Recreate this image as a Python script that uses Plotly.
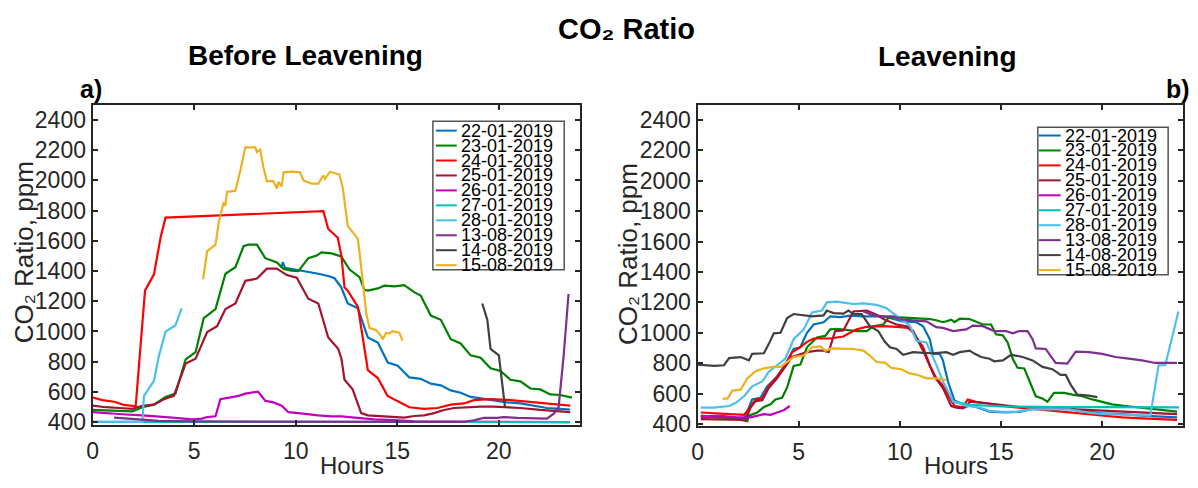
import plotly.graph_objects as go

# The page body keeps its default 8px margin, so the figure is drawn 8px in.
PAGE_W, PAGE_H, OFF = 1198, 488, 8
W, H = PAGE_W - OFF, PAGE_H - OFF

NAMES = ["22-01-2019", "23-01-2019", "24-01-2019", "25-01-2019", "26-01-2019",
         "27-01-2019", "28-01-2019", "13-08-2019", "14-08-2019", "15-08-2019"]
COLORS = ["#0072BD", "#008000", "#FF0000", "#A2142F", "#BF00BF",
          "#00BFBF", "#4DBEEE", "#7E2F8E", "#404040", "#EDB120"]

X_TICKS = [0, 5, 10, 15, 20]
Y_TICKS = [400, 600, 800, 1000, 1200, 1400, 1600, 1800, 2000, 2200, 2400]

# ---------------- a) Before Leavening ----------------
B_2201_H = [9.30, 9.36, 9.48, 9.80, 10.46, 11.11, 11.60, 11.91, 12.24, 12.56, 13.06, 13.55, 14.04, 14.53,
            15.02, 15.59, 16.15, 16.65, 17.14, 17.63, 18.12, 18.61, 19.10, 19.75, 20.40, 21.06, 21.71,
            22.37, 23.02, 23.51]
B_2201_V = [1420, 1459, 1421, 1414, 1399, 1382, 1367, 1352, 1292, 1185, 1153, 960, 927, 795,
            773, 696, 687, 655, 644, 610, 595, 567, 557, 542, 531, 524, 509,
            494, 488, 484]

B_2301_H = [0, 0.82, 1.47, 1.96, 2.45, 3.02, 3.59, 4.08, 4.58, 5.07, 5.47, 6.05, 6.54, 7.03, 7.43, 7.68,
            8.09, 8.50, 9.07, 9.40, 9.80, 10.13, 10.62, 11.03, 11.27, 11.76, 12.24, 12.65, 13.14, 13.38,
            13.55, 14.04, 14.36, 14.85, 15.34, 15.83, 16.15, 16.65, 17.14, 17.63, 18.12, 18.61, 19.10,
            19.59, 20.08, 20.57, 21.06, 21.55, 22.04, 22.53, 23.02, 23.60]
B_2301_V = [481, 477, 477, 471, 499, 516, 567, 589, 816, 863, 1088, 1148, 1382, 1425, 1564, 1575,
            1575, 1485, 1457, 1414, 1403, 1399, 1485, 1502, 1523, 1517, 1496, 1410, 1360, 1275,
            1270, 1285, 1303, 1298, 1307, 1260, 1238, 1105, 1077, 949, 921, 842, 827,
            756, 739, 681, 670, 623, 617, 584, 580, 563]

B_2401_H = [0, 0.49, 1.06, 1.55, 2.12, 2.58, 3.02, 3.35, 3.59, 11.36, 11.60, 12.07, 12.25, 12.40, 12.56,
            13.06, 13.55, 14.04, 14.52, 15.00, 15.59, 16.32, 16.98, 17.63, 18.28, 18.77, 19.59, 20.40,
            21.39, 22.37, 23.51]
B_2401_V = [563, 546, 535, 514, 505, 1270, 1378, 1624, 1753, 1796, 1678, 1620, 1500, 1292, 1270,
            1163, 745, 692, 574, 541, 499, 488, 494, 516, 524, 546, 552, 548,
            537, 524, 509]

B_2501_H = [0, 0.65, 1.31, 1.96, 2.45, 3.02, 3.51, 4.00, 4.58, 5.07, 5.64, 6.13, 6.54, 7.03, 7.52, 8.09,
            8.58, 9.07, 9.56, 10.05, 10.62, 11.11, 11.60, 12.09, 12.25, 12.40, 12.80, 13.22, 13.55, 14.20,
            14.85, 15.34, 15.83, 16.32, 16.81, 17.30, 17.79, 18.45, 19.10, 19.75, 20.40, 21.06, 22.04,
            23.02, 23.51]
B_2501_V = [509, 499, 494, 488, 509, 516, 552, 574, 788, 820, 996, 1035, 1148, 1185, 1335, 1350,
            1416, 1416, 1373, 1356, 1217, 1185, 960, 885, 820, 681, 617, 460, 445, 439,
            434, 430, 441, 445, 460, 481, 494, 499, 503, 503, 499, 494, 481,
            473, 466]

B_2601_H = [0, 0.82, 1.63, 2.45, 3.27, 4.08, 4.90, 5.39, 5.64, 6.05, 6.29, 6.70, 7.19, 7.52, 7.84, 8.14,
            8.50, 8.90, 9.31, 9.64, 10.13, 10.62, 11.11, 11.76, 12.25, 12.90, 13.87, 14.85, 15.83, 17.0,
            18.5, 20.0, 21.5, 23.5]
B_2601_V = [466, 456, 451, 445, 434, 428, 419, 424, 434, 439, 552, 563, 574, 589, 595, 602,
            542, 531, 509, 466, 460, 451, 445, 439, 439, 430, 419, 413, 406, 404,
            403, 402, 402, 401]

B_2701_H = [0, 4.0, 8.0, 12.0, 16.0, 20.0, 23.5]
B_2701_V = [402, 401, 400, 400, 400, 401, 401]

B_2801_H = [0, 0.8, 1.6, 2.45, 2.53, 3.02, 3.27, 3.59, 4.08, 4.38]
B_2801_V = [403, 403, 402, 402, 574, 674, 842, 998, 1041, 1153]

B_1308_H = [1.06, 1.63, 2.45, 3.27, 5.0, 8.0, 11.0, 14.0, 16.0, 18.28, 18.77, 19.26, 19.92, 20.24,
            20.90, 21.88, 22.37, 22.70, 22.94, 23.19, 23.43]
B_1308_V = [430, 424, 413, 409, 405, 404, 403, 402, 402, 402, 413, 428, 428, 434,
            428, 424, 424, 456, 499, 842, 1249]

B_1408_H = [19.18, 19.43, 19.59, 20.00, 20.30]
B_1408_V = [1185, 1077, 885, 842, 499]

B_1508_H = [5.44, 5.64, 6.05, 6.21, 6.45, 6.54, 6.62, 7.03, 7.27, 7.52, 8.01, 8.09, 8.25, 8.41, 8.58,
            8.90, 9.07, 9.15, 9.31, 9.40, 9.80, 10.21, 10.38, 10.78, 11.11, 11.36, 11.44, 11.68, 12.15,
            12.32, 12.56, 13.06, 13.30, 13.47, 13.63, 13.96, 14.20, 14.28, 14.45, 14.60, 14.77, 15.10,
            15.26]
B_1508_V = [1345, 1532, 1575, 1721, 1854, 1832, 1924, 1931, 2064, 2218, 2218, 2188, 2203, 2085, 1995,
            1995, 1946, 1989, 1961, 2053, 2057, 2053, 1999, 1978, 1978, 2032, 2010, 2057, 2038,
            1946, 1699, 1613, 1335, 1120, 1024, 1009, 970, 949, 992, 987, 1002, 992,
            938]

# ---------------- b) Leavening ----------------
L_2201_H = [0.16, 0.98, 1.64, 2.30, 2.70, 3.11, 3.44, 3.93, 4.34, 4.75, 5.08, 5.41, 5.74, 6.23, 6.56,
            7.05, 7.54, 8.20, 8.69, 9.18, 9.67, 10.16, 10.82, 11.15, 11.48, 11.64, 11.97, 12.13, 12.38,
            12.70, 13.11, 13.77, 14.43, 15.25, 15.90, 16.72, 17.54, 18.20, 18.69, 19.35, 20.00, 20.99,
            21.97, 22.95, 23.70]
L_2201_V = [454, 443, 439, 432, 561, 572, 647, 711, 790, 893, 904, 1000, 1054, 1069, 1108,
            1103, 1112, 1108, 1108, 1108, 1090, 1075, 1069, 1043, 957, 861, 861, 818, 679,
            554, 529, 511, 481, 475, 479, 503, 511, 511, 496, 479, 469, 464,
            454, 447, 443]

L_2301_H = [0.16, 0.98, 1.64, 2.46, 2.54, 2.95, 3.28, 3.61, 3.85, 4.18, 4.43, 4.75, 5.08, 5.41, 5.66,
            5.90, 6.31, 6.56, 6.89, 7.21, 7.87, 8.36, 8.69, 9.18, 9.43, 9.84, 10.49, 10.98, 11.48, 11.80,
            12.13, 12.30, 12.54, 12.70, 12.96, 13.45, 13.70, 14.10, 14.51, 14.75, 15.09, 15.33, 15.58,
            15.82, 16.15, 16.40, 16.72, 17.05, 17.30, 17.62, 18.12, 18.53, 19.02, 19.51, 20.00, 20.49,
            21.15, 21.97, 22.95, 23.70]
L_2301_V = [447, 443, 439, 417, 454, 475, 511, 529, 561, 572, 640, 782, 790, 904, 940,
            968, 979, 1022, 1026, 1022, 1011, 1011, 1043, 1054, 1097, 1103, 1097, 1090, 1090, 1082,
            1069, 1075, 1086, 1069, 1092, 1090, 1075, 1054, 1054, 990, 983, 936, 829,
            769, 765, 679, 582, 567, 546, 604, 604, 593, 582, 561, 546, 529,
            518, 507, 496, 481]

L_2401_H = [0.16, 0.98, 1.64, 2.30, 2.46, 2.62, 2.87, 3.20, 3.52, 3.93, 4.34, 4.67, 5.00, 5.41, 5.74,
            6.56, 7.21, 7.54, 7.87, 8.36, 9.18, 9.84, 10.41, 10.66, 11.15, 11.48, 11.80, 12.13, 12.46,
            12.70, 13.11, 13.36, 13.77, 14.43, 15.09, 15.90, 16.72, 17.54, 18.36, 19.18, 20.00, 20.99,
            21.97, 22.95, 23.70]
L_2401_V = [475, 471, 464, 460, 486, 518, 561, 567, 647, 711, 786, 872, 897, 940, 962,
            962, 975, 1000, 1022, 1039, 1043, 1039, 1032, 1000, 904, 786, 700, 653, 572,
            518, 511, 561, 546, 533, 518, 507, 496, 486, 475, 464, 454, 443,
            436, 432, 426]

L_2501_H = [0.16, 0.98, 1.64, 2.38, 2.62, 2.87, 3.20, 3.52, 3.93, 4.34, 4.67, 5.00, 5.41, 5.90, 6.23,
            6.48, 6.64, 6.80, 7.21, 7.54, 7.70, 8.36, 8.85, 9.26, 9.84, 10.33, 10.66, 11.15, 11.48,
            11.72, 12.13, 12.54, 12.79, 13.11, 13.36, 13.44, 14.10, 14.92, 15.90, 16.72, 17.70, 18.69,
            19.68, 20.66, 21.64, 22.62, 23.70]
L_2501_V = [432, 428, 426, 426, 507, 550, 556, 636, 700, 775, 840, 855, 872, 882, 882,
            872, 936, 1011, 1015, 1097, 1140, 1146, 1118, 1086, 1054, 1043, 1011, 882, 786,
            711, 636, 518, 507, 503, 518, 546, 539, 524, 511, 511, 507, 496,
            490, 481, 475, 469, 464]

L_2601_H = [0.16, 0.98, 1.97, 2.62, 3.28, 3.61, 3.93, 4.26, 4.56]
L_2601_V = [447, 454, 443, 443, 464, 460, 475, 490, 518]

L_2701_H = [12.6, 13.5, 15.0, 16.5, 18.2, 20.0, 21.5, 23.0, 23.8]
L_2701_V = [545, 525, 515, 512, 511, 510, 510, 509, 509]

L_2801_H = [0.16, 0.82, 1.56, 1.89, 2.30, 2.70, 3.20, 3.52, 3.93, 4.34, 4.75, 5.25, 5.66, 6.15, 6.39,
            6.89, 7.21, 7.70, 8.20, 8.85, 9.34, 9.84, 10.16, 10.49, 10.82, 11.31, 11.80, 12.13, 12.63,
            12.96, 13.28, 13.86, 14.43, 15.09, 15.74, 16.40, 17.05, 17.70, 18.36, 19.02, 19.68, 20.33,
            20.99, 21.64, 22.38, 22.79, 23.12, 23.77]
L_2801_V = [507, 507, 518, 539, 582, 647, 679, 743, 786, 829, 957, 1022, 1133, 1146, 1200,
            1204, 1198, 1189, 1193, 1183, 1161, 1112, 1075, 1047, 947, 936, 790, 680, 550,
            533, 518, 511, 486, 479, 479, 496, 496, 496, 496, 481, 469, 464,
            460, 454, 454, 786, 786, 1140]

L_1308_H = [8.20, 8.69, 9.18, 9.67, 10.16, 10.66, 11.31, 11.80, 12.13, 12.63, 13.28, 13.61, 14.10, 14.67,
            15.25, 15.58, 15.90, 16.31, 16.56, 16.72, 17.21, 17.70, 18.28, 18.69, 19.35, 20.00, 20.66,
            21.31, 21.97, 22.62, 23.28, 23.70]
L_1308_V = [1140, 1114, 1108, 1108, 1086, 1082, 1075, 1037, 1032, 1011, 1022, 1047, 1043, 1011,
            1011, 996, 1011, 1011, 957, 897, 893, 801, 797, 876, 872, 861, 840,
            829, 818, 801, 801, 801]

L_1408_H = [0, 0.82, 1.31, 1.56, 2.13, 2.54, 2.70, 3.28, 3.52, 3.77, 4.10, 4.43, 4.75, 5.25, 5.66,
            6.23, 6.39, 6.72, 7.21, 7.46, 7.70, 8.11, 8.28, 8.52, 8.93, 9.26, 9.51, 9.84, 10.16, 10.66,
            11.15, 11.64, 12.30, 12.63, 12.96, 13.45, 13.70, 14.02, 14.43, 14.67, 15.09, 15.50, 16.07,
            16.56, 17.05, 17.54, 17.95, 18.20, 18.45, 18.77, 19.35, 19.76]
L_1408_V = [790, 782, 786, 833, 840, 818, 861, 865, 925, 996, 1000, 1097, 1123, 1114, 1108,
            1114, 1146, 1129, 1125, 1146, 1123, 1123, 1086, 1043, 1011, 940, 904, 893, 855, 872,
            867, 865, 872, 855, 872, 882, 861, 840, 829, 812, 818, 855, 840,
            818, 775, 760, 722, 722, 657, 593, 586, 576]

L_1508_H = [1.23, 1.48, 1.72, 2.13, 2.46, 2.87, 3.28, 3.77, 4.10, 4.43, 4.75, 5.25, 5.66, 6.07, 6.31,
            6.64, 7.21, 7.70, 8.20, 8.52, 8.85, 9.26, 9.59, 10.08, 10.49, 10.90, 11.31, 11.80, 12.30]
L_1508_V = [567, 567, 619, 625, 700, 747, 765, 775, 775, 807, 840, 850, 904, 910, 882,
            897, 897, 893, 882, 850, 807, 803, 769, 760, 732, 722, 700, 700, 689]

BEFORE = [(B_2201_H, B_2201_V), (B_2301_H, B_2301_V), (B_2401_H, B_2401_V), (B_2501_H, B_2501_V),
          (B_2601_H, B_2601_V), (B_2701_H, B_2701_V), (B_2801_H, B_2801_V), (B_1308_H, B_1308_V),
          (B_1408_H, B_1408_V), (B_1508_H, B_1508_V)]
LEAV = [(L_2201_H, L_2201_V), (L_2301_H, L_2301_V), (L_2401_H, L_2401_V), (L_2501_H, L_2501_V),
        (L_2601_H, L_2601_V), (L_2701_H, L_2701_V), (L_2801_H, L_2801_V), (L_1308_H, L_1308_V),
        (L_1408_H, L_1408_V), (L_1508_H, L_1508_V)]

FONT = "Liberation Sans, Arial, Helvetica, sans-serif"
INK = "#262626"

fig = go.Figure()
for i, (h, v) in enumerate(BEFORE):
    fig.add_trace(go.Scatter(x=h, y=v, mode="lines", name=NAMES[i], showlegend=False,
                             line=dict(color=COLORS[i], width=2.2), xaxis="x", yaxis="y"))
for i, (h, v) in enumerate(LEAV):
    fig.add_trace(go.Scatter(x=h, y=v, mode="lines", name=NAMES[i], showlegend=False,
                             line=dict(color=COLORS[i], width=2.2), xaxis="x2", yaxis="y2"))


def px(x):
    """page pixel -> paper fraction"""
    return (x - OFF) / W


def py(y):
    return 1 - (y - OFF) / H


axis_common = dict(showline=True, mirror="ticks", linecolor=INK, linewidth=2,
                   ticks="inside", ticklen=5, tickwidth=2, tickcolor=INK,
                   showgrid=False, zeroline=False,
                   tickfont=dict(family=FONT, size=23, color=INK))

fig.update_layout(
    width=W, height=H, autosize=False,
    margin=dict(l=0, r=0, t=0, b=0),
    paper_bgcolor="white", plot_bgcolor="white",
    xaxis=dict(domain=[px(87), px(577)], range=[0, 24], tickvals=X_TICKS, anchor="y",
               ticklabelstandoff=4, **axis_common),
    yaxis=dict(domain=[py(435), py(107)], range=[380, 2500], tickvals=Y_TICKS, anchor="x", **axis_common),
    xaxis2=dict(domain=[px(695), px(1183)], range=[0, 24], tickvals=X_TICKS, anchor="y2",
                ticklabelstandoff=4, **axis_common),
    yaxis2=dict(domain=[py(436), py(107)], range=[385, 2500], tickvals=Y_TICKS, anchor="x2", **axis_common),
)

ann = []
shapes = []


def text(x, y, s, size, color=INK, angle=0, xanchor="center"):
    ann.append(dict(x=px(x), y=py(y), xref="paper", yref="paper", text=s, showarrow=False,
                    xanchor=xanchor, yanchor="middle", textangle=angle,
                    font=dict(family=FONT, size=size, color=color)))


text(624, 30, "<b>CO₂ Ratio</b>", 29, color="black")
text(301, 57, "<b>Before Leavening</b>", 28, color="black")
text(946, 58, "<b>Leavening</b>", 28, color="black")
text(85, 91, "<b>a)</b>", 25, color="black")
text(1178, 91, "<b>b)</b>", 25, color="black")
text(18, 258, "CO₂ Ratio, ppm", 26, angle=-90)
text(625, 260, "CO₂ Ratio, ppm", 26, angle=-90)
text(348, 476, "Hours", 24)
text(955, 476, "Hours", 24)

# legends (one per panel), entries laid out from the NAMES / COLORS lists
LEGENDS = [dict(box=(429, 124, 561, 276), l0=432, l1=453, tx=455, y0=133.5),
           dict(box=(1037, 130, 1168, 281), l0=1038, l1=1060, tx=1062, y0=138.5)]
STEP = 15.3
for lg in LEGENDS:
    x0, y0, x1, y1 = lg["box"]
    shapes.append(dict(type="rect", xref="paper", yref="paper", x0=px(x0), x1=px(x1), y0=py(y1), y1=py(y0),
                       line=dict(color="#555555", width=1.5), fillcolor="white", layer="above"))
    for i, name in enumerate(NAMES):
        yy = lg["y0"] + i * STEP
        shapes.append(dict(type="line", xref="paper", yref="paper", x0=px(lg["l0"]), x1=px(lg["l1"]),
                           y0=py(yy), y1=py(yy), line=dict(color=COLORS[i], width=2), layer="above"))
        ann.append(dict(x=px(lg["tx"]), y=py(yy), xref="paper", yref="paper", text=name, showarrow=False,
                        xanchor="left", yanchor="middle",
                        font=dict(family=FONT, size=18, color="black")))

fig.update_layout(annotations=ann, shapes=shapes)
fig.write_html("out.html")
